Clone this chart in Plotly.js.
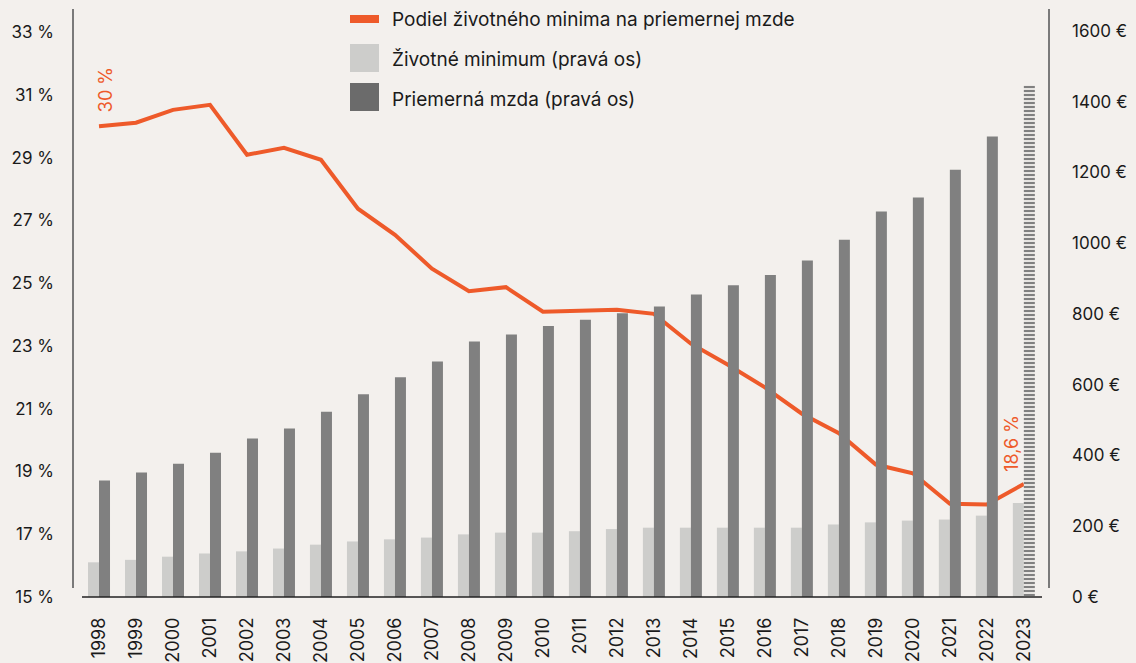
<!DOCTYPE html>
<html>
<head>
<meta charset="utf-8">
<script src="https://cdn.plot.ly/plotly-3.0.1.min.js"></script>
<style>
  html, body { margin: 0; padding: 0; background: #f3f0ed; }
  #chart { width: 1136px; height: 663px; }
</style>
</head>
<body>
<div id="chart"></div>
<script>
const years = ["1998", "1999", "2000", "2001", "2002", "2003", "2004", "2005", "2006", "2007", "2008", "2009", "2010",
  "2011", "2012", "2013", "2014", "2015", "2016", "2017", "2018", "2019", "2020", "2021", "2022", "2023"];

// Podiel životného minima na priemernej mzde (%)
const share = [30.0, 30.11, 30.52, 30.68, 29.09, 29.31, 28.93, 27.37, 26.54, 25.46, 24.74, 24.87, 24.09,
  24.12, 24.15, 24.02, 23.07, 22.40, 21.68, 20.84, 20.22, 19.22, 18.94, 17.97, 17.95, 18.6];

// Životné minimum (€)
const minimum = [98, 105, 114, 123, 129, 137, 148, 157, 163, 168, 177, 182, 182,
  186, 192, 196, 196, 196, 196, 196, 205, 211, 216, 219, 230, 266];

// Priemerná mzda (€), posledný rok je odhad
const wage = [329, 352, 377, 408, 448, 476, 524, 573, 621, 666, 722, 742, 766,
  784, 802, 821, 855, 881, 910, 951, 1010, 1090, 1129, 1208, 1302];
const wageEstYears = ["2023"];
const wageEst = [1446];

const leftTicks = [15, 17, 19, 21, 23, 25, 27, 29, 31, 33];
const rightTicks = [0, 200, 400, 600, 800, 1000, 1200, 1400, 1600];

const BG = "#f3f0ed";
const ORANGE = "#ee5a2a";
const LIGHT = "#cdcdcb";
const DARK = "#808080";
const FONT = "Inter, 'Noto Sans', sans-serif";

// plot area in pixels: x 73..1049, y 5..597
const px = (x) => (x - 73) / 976;
const py = (y) => (597 - y) / 592;

const data = [
  {
    x: years,
    y: minimum,
    type: "bar",
    yaxis: "y2",
    offsetgroup: "min",
    name: "Životné minimum (pravá os)",
    marker: { color: LIGHT, line: { width: 0 } },
  },
  {
    x: years.slice(0, wage.length),
    y: wage,
    type: "bar",
    yaxis: "y2",
    offsetgroup: "wage",
    name: "Priemerná mzda (pravá os)",
    marker: { color: DARK, line: { width: 0 } },
  },
  {
    x: wageEstYears,
    y: wageEst,
    type: "bar",
    yaxis: "y2",
    offsetgroup: "wage",
    name: "Priemerná mzda (odhad)",
    marker: {
      color: BG,
      line: { width: 0 },
      pattern: { shape: "-", fgcolor: DARK, bgcolor: BG, size: 4, solidity: 0.55, fillmode: "replace" },
    },
  },
  {
    x: years,
    y: share,
    type: "scatter",
    mode: "lines",
    name: "Podiel životného minima na priemernej mzde",
    line: { color: ORANGE, width: 4 },
  },
];

const legendRows = [
  { y: 19, ty: 19, text: "Podiel životného minima na priemernej mzde", kind: "line", color: ORANGE },
  { y: 58, ty: 60, text: "Životné minimum (pravá os)", kind: "box", color: LIGHT },
  { y: 97, ty: 99, text: "Priemerná mzda (pravá os)", kind: "box", color: "#6b6b6b" },
];

const shapes = [
  // left axis line
  { type: "line", xref: "paper", yref: "paper", x0: 0, x1: 0, y0: py(588), y1: py(9),
    line: { color: "#7a7a7a", width: 2 } },
  // right axis line
  { type: "line", xref: "paper", yref: "paper", x0: 1, x1: 1, y0: py(588), y1: py(9),
    line: { color: "#7a7a7a", width: 2 } },
  // baseline
  { type: "line", xref: "paper", yref: "paper", x0: px(82), x1: px(1042), y0: py(597), y1: py(597),
    line: { color: "#222", width: 1.5 } },
];

const annotations = [
  { x: 0, y: share[0], xref: "x", yref: "y", text: "30 %", textangle: -90, showarrow: false,
    xshift: 6, yshift: 36, font: { family: FONT, size: 18, color: ORANGE } },
  { x: years.length - 1, y: share[share.length - 1], xref: "x", yref: "y", text: "18,6 %", textangle: -90, showarrow: false,
    xshift: -13, yshift: 41, font: { family: FONT, size: 18, color: ORANGE } },
];

legendRows.forEach((r) => {
  const h = r.kind === "line" ? 4 : 14;
  shapes.push({ type: "rect", xref: "paper", yref: "paper", x0: px(350), x1: px(379), y0: py(r.y + h), y1: py(r.y - h),
    fillcolor: r.color, line: { width: 0 } });
  annotations.push({ xref: "paper", yref: "paper", x: px(390), y: py(r.ty), xanchor: "left", yanchor: "middle",
    text: r.text, showarrow: false, font: { family: FONT, size: 19, color: "#1a1a1a" } });
});

const layout = {
  width: 1136,
  height: 663,
  margin: { l: 73, r: 87, t: 5, b: 66 },
  paper_bgcolor: BG,
  plot_bgcolor: BG,
  font: { family: FONT, size: 17, color: "#1a1a1a" },
  showlegend: false,
  barmode: "group",
  bargap: 0.405,
  bargroupgap: 0,
  xaxis: {
    type: "category",
    categoryarray: years,
    range: [-0.703, 25.68],
    tickangle: -90,
    ticks: "",
    showline: false,
    showgrid: false,
    zeroline: false,
    ticklabelstandoff: 16,
    tickfont: { family: FONT, size: 18, color: "#1a1a1a" },
  },
  yaxis: {
    range: [15, 33.86],
    tickvals: leftTicks,
    ticktext: leftTicks.map((v) => v + " %"),
    ticks: "",
    showgrid: false,
    zeroline: false,
    showline: false,
    ticklabelstandoff: 18,
  },
  yaxis2: {
    overlaying: "y",
    side: "right",
    range: [0, 1673.5],
    tickvals: rightTicks,
    ticktext: rightTicks.map((v) => v + " €"),
    ticks: "",
    showgrid: false,
    zeroline: false,
    showline: false,
    ticklabelstandoff: 22,
  },
  shapes: shapes,
  annotations: annotations,
};

Plotly.newPlot("chart", data, layout, { displayModeBar: false });
</script>
</body>
</html>
